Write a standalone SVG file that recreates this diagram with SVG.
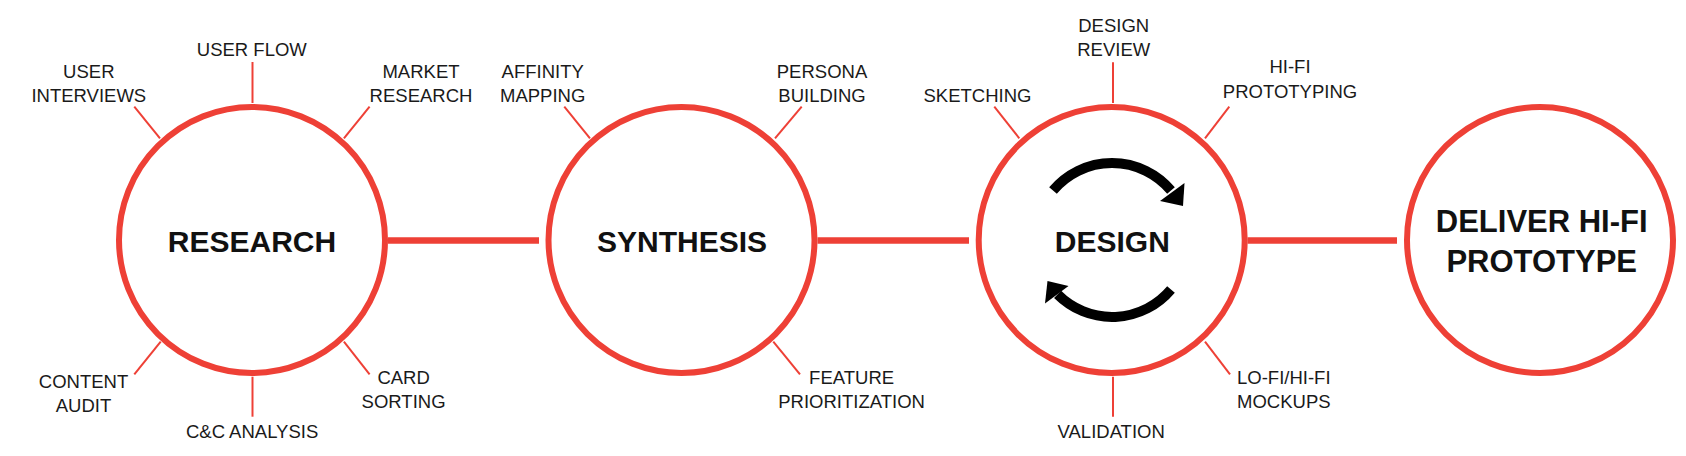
<svg xmlns="http://www.w3.org/2000/svg" width="1686" height="456" viewBox="0 0 1686 456">
<style>
.ring{fill:#fff;stroke:#EE4036;stroke-width:6}
.spoke{stroke:#EE4036;stroke-width:2;fill:none}
.conn{stroke:#EE4036;stroke-width:6.5;fill:none}
.lbl{font-family:"Liberation Sans",Arial,sans-serif;font-size:18.5px;fill:#1a1a1a;text-anchor:middle}
.big{font-family:"Liberation Sans",Arial,sans-serif;font-size:30px;font-weight:bold;fill:#111;text-anchor:middle}
.arc{stroke:#000;stroke-width:10;fill:none}
</style>
<rect width="1686" height="456" fill="#fff"/>
<g id="connectors">
<line class="conn" x1="388" y1="240.5" x2="539" y2="240.5"/>
<line class="conn" x1="817.5" y1="240.5" x2="969" y2="240.5"/>
<line class="conn" x1="1247.5" y1="240.5" x2="1397" y2="240.5"/>
</g>
<g id="research">
<line class="spoke" x1="134.3" y1="106.7" x2="160" y2="138.3"/>
<line class="spoke" x1="252.5" y1="62" x2="252.5" y2="103"/>
<line class="spoke" x1="369.6" y1="106.7" x2="343.9" y2="138.3"/>
<line class="spoke" x1="134.3" y1="374.3" x2="160.7" y2="341.7"/>
<line class="spoke" x1="252.5" y1="376.7" x2="252.5" y2="416.7"/>
<line class="spoke" x1="343.9" y1="341.7" x2="369.6" y2="374.3"/>
<circle class="ring" cx="252" cy="240" r="133"/>
<text class="big" x="252" y="252.3">RESEARCH</text>
<text class="lbl" x="88.8" y="78.3">USER</text>
<text class="lbl" x="88.8" y="101.7">INTERVIEWS</text>
<text class="lbl" x="251.8" y="56">USER FLOW</text>
<text class="lbl" x="421" y="78.3">MARKET</text>
<text class="lbl" x="421" y="101.7">RESEARCH</text>
<text class="lbl" x="83.5" y="388.3">CONTENT</text>
<text class="lbl" x="83.5" y="412.3">AUDIT</text>
<text class="lbl" x="252.1" y="438.3">C&amp;C ANALYSIS</text>
<text class="lbl" x="403.6" y="384.3">CARD</text>
<text class="lbl" x="403.6" y="408">SORTING</text>
</g>
<g id="synthesis">
<line class="spoke" x1="564.3" y1="106.7" x2="590" y2="138.3"/>
<line class="spoke" x1="801.7" y1="106.7" x2="775" y2="138.3"/>
<line class="spoke" x1="773.3" y1="341.7" x2="800" y2="374.3"/>
<circle class="ring" cx="681.5" cy="240" r="133"/>
<text class="big" x="682" y="251.7">SYNTHESIS</text>
<text class="lbl" x="542.7" y="78.3">AFFINITY</text>
<text class="lbl" x="542.7" y="101.7">MAPPING</text>
<text class="lbl" x="822" y="78.3">PERSONA</text>
<text class="lbl" x="822" y="101.7">BUILDING</text>
<text class="lbl" x="851.6" y="384.3">FEATURE</text>
<text class="lbl" x="851.6" y="408">PRIORITIZATION</text>
</g>
<g id="design">
<line class="spoke" x1="994.3" y1="106.7" x2="1019.3" y2="138.3"/>
<line class="spoke" x1="1113" y1="62.3" x2="1113" y2="103"/>
<line class="spoke" x1="1229.3" y1="106.7" x2="1205" y2="138.3"/>
<line class="spoke" x1="1205" y1="341.7" x2="1230" y2="374.3"/>
<line class="spoke" x1="1113" y1="376.7" x2="1113" y2="416.7"/>
<circle class="ring" cx="1111.7" cy="240" r="133"/>
<path class="arc" d="M1053 190.5 A77 77 0 0 1 1171 190.5"/>
<polygon points="1184.5,183 1160,201 1183,206" fill="#000"/>
<path class="arc" d="M1171 289.5 A77 77 0 0 1 1057.6 294.4"/>
<polygon points="1068.5,286 1045,303.5 1047.5,281" fill="#000"/>
<text class="big" x="1112.3" y="251.7">DESIGN</text>
<text class="lbl" x="977.5" y="101.7">SKETCHING</text>
<text class="lbl" x="1113.7" y="31.7">DESIGN</text>
<text class="lbl" x="1113.7" y="55.7">REVIEW</text>
<text class="lbl" x="1290" y="73.3">HI-FI</text>
<text class="lbl" x="1290" y="97.7">PROTOTYPING</text>
<text class="lbl" x="1283.8" y="384.3">LO-FI/HI-FI</text>
<text class="lbl" x="1283.8" y="408">MOCKUPS</text>
<text class="lbl" x="1111.2" y="438.3">VALIDATION</text>
</g>
<g id="deliver">
<circle class="ring" cx="1540" cy="240" r="133"/>
<text class="big" x="1541.7" y="231.7" style="font-size:31px">DELIVER HI-FI</text>
<text class="big" x="1541.7" y="271.7" style="font-size:31px">PROTOTYPE</text>
</g>
</svg>
